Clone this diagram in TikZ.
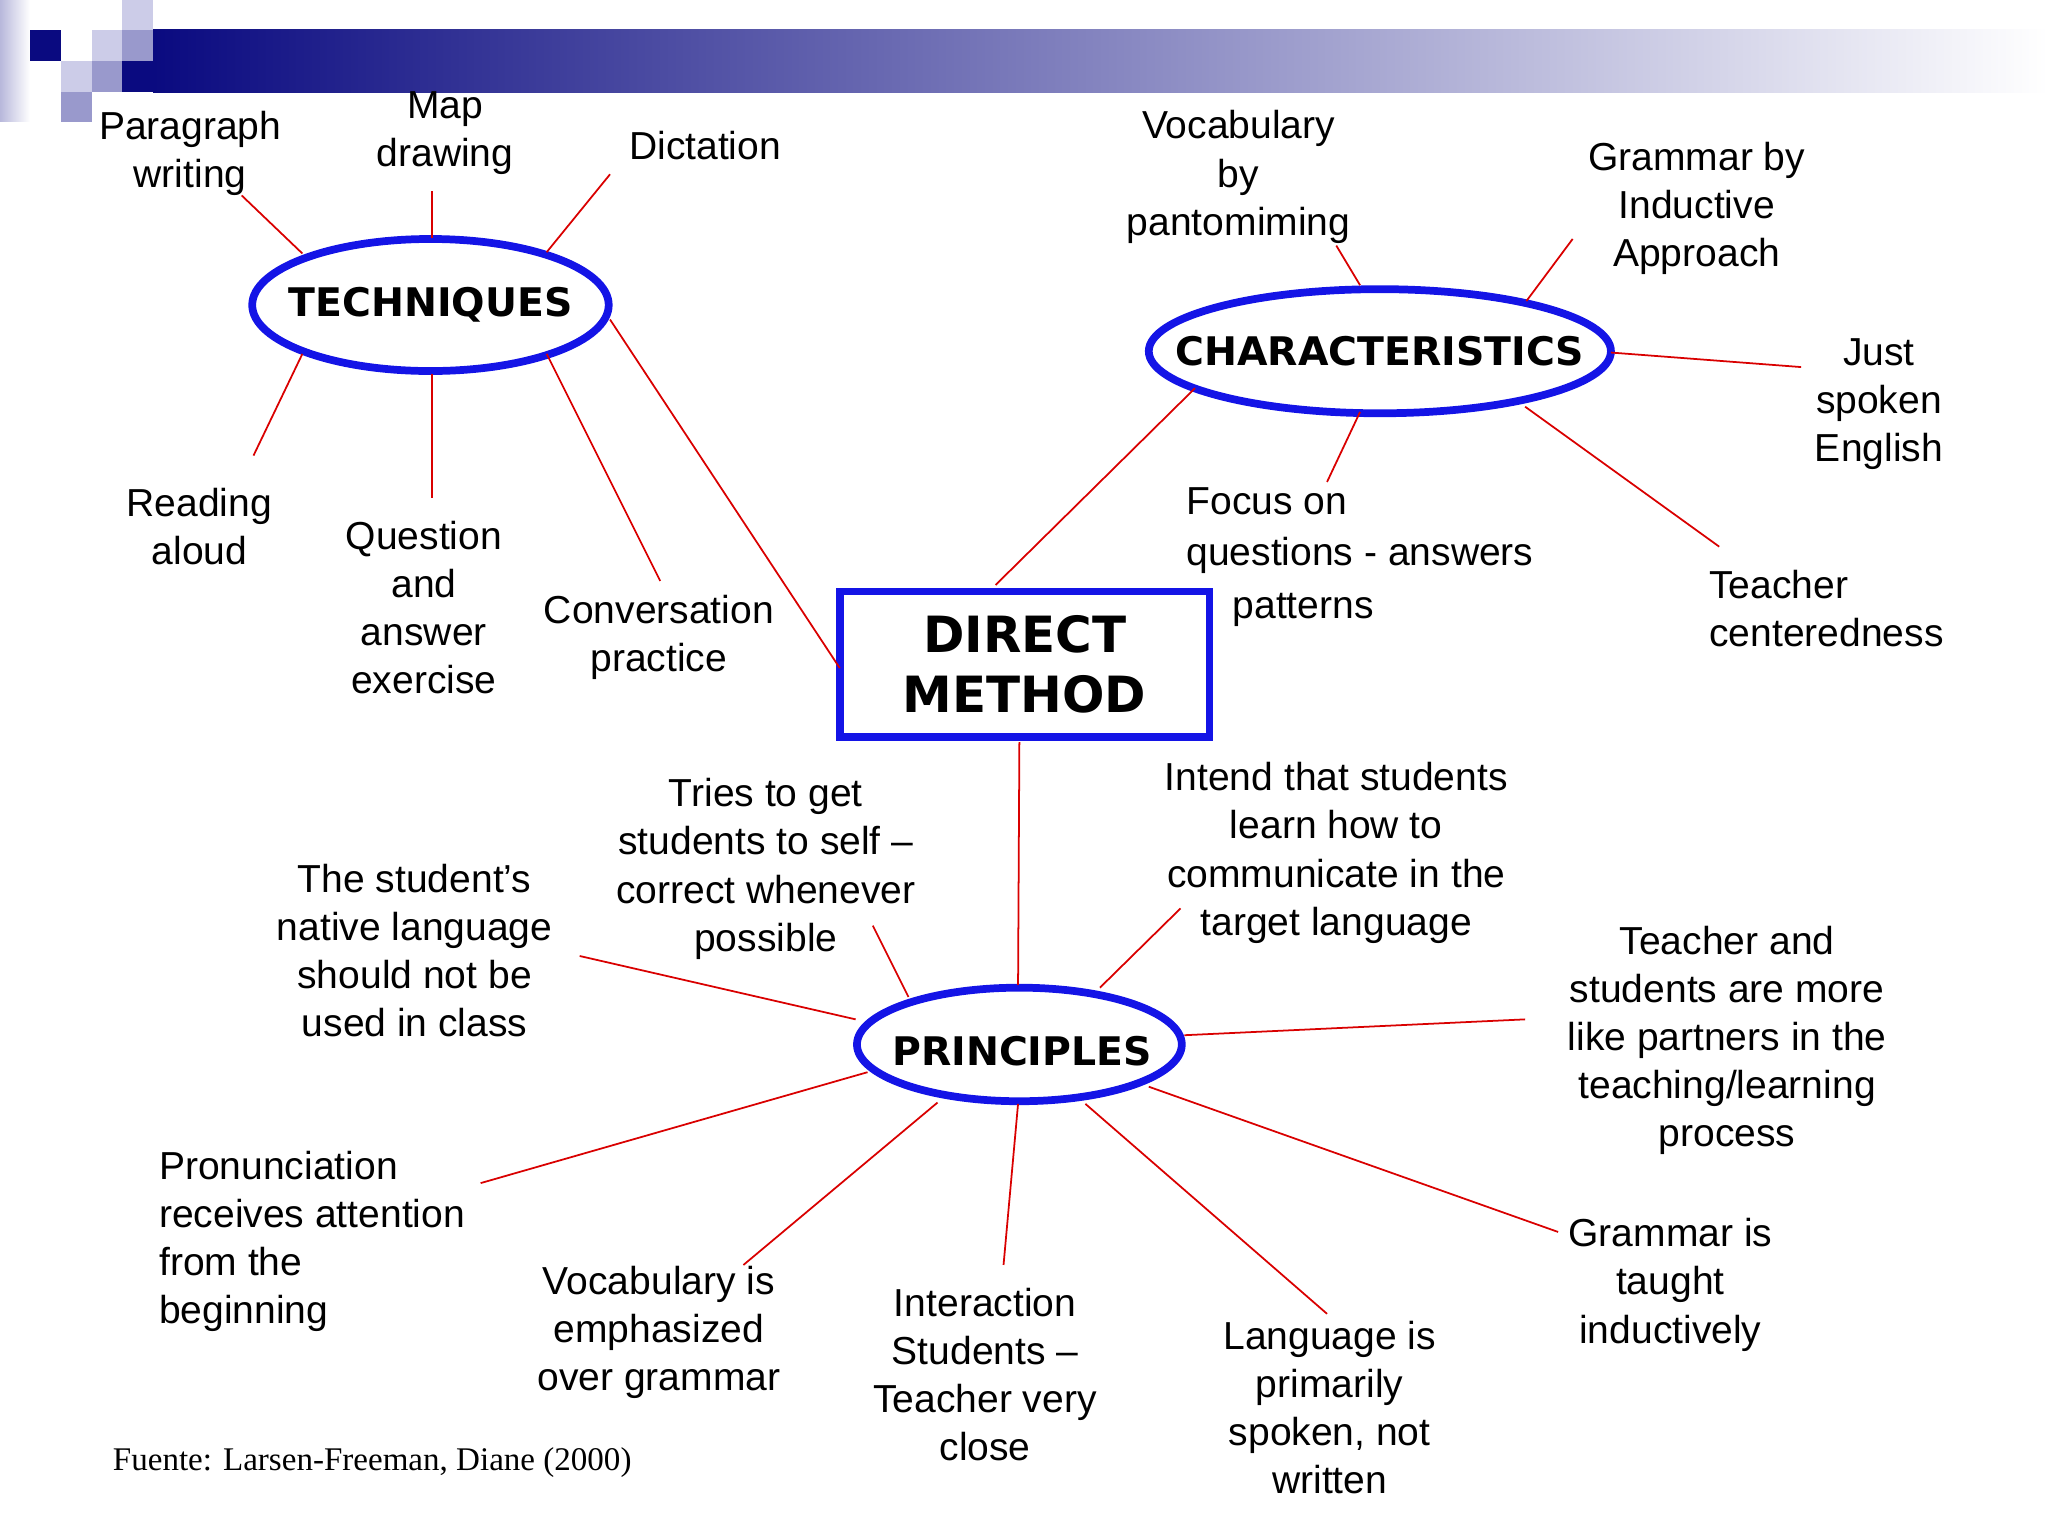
\documentclass[tikz,border=0pt]{standalone}
\usepackage{fontspec}
\setmainfont{Liberation Sans}
\newfontfamily\boldf{DejaVu Sans}
\newfontfamily\serf{Liberation Serif}
\definecolor{navy}{RGB}{10,10,128}
\definecolor{lav}{RGB}{204,204,232}
\definecolor{lavm}{RGB}{153,153,204}
\definecolor{bl}{RGB}{20,20,230}
\tikzset{
 lbl/.style={align=center,font=\fontsize{11.1}{13.7}\selectfont,inner sep=0pt},
 lbll/.style={align=left,font=\fontsize{11.1}{13.7}\selectfont,inner sep=0pt},
 hub/.style={font=\boldf\bfseries\fontsize{11.2}{13}\selectfont,inner sep=0pt},
 hubline/.style={draw=bl,line width=2.2pt},
 con/.style={draw=red!85!black,line width=0.5pt}
}
\begin{document}
\begin{tikzpicture}[x=0.013205cm,y=-0.013205cm]
\useasboundingbox (0,0) rectangle (1551,1163);
% header
\shade[left color=lavm!70,right color=white] (0,0) rectangle (22.7,92.4);
\shade[left color=navy,right color=white] (115.9,22.7) rectangle (1551,69.7);
\fill[navy] (22.7,22.7) rectangle (46.2,46.2);
\fill[lav] (46.2,46.2) rectangle (69.7,69.7);
\fill[lavm] (69.7,46.2) rectangle (92.4,69.7);
\fill[lavm] (46.2,69.7) rectangle (69.7,92.4);
\fill[lav] (69.7,22.7) rectangle (92.4,46.2);
\fill[lavm] (92.4,22.7) rectangle (115.9,46.2);
\fill[lav] (92.4,0) rectangle (115.9,22.7);
\fill[navy] (92.4,46.2) rectangle (115.9,69.7);
% hubs
\node[hub] (tech) at (326,231) {TECHNIQUES};
\draw[hubline] (tech.center) ellipse [x radius=135,y radius=50];
\node[hub] (char) at (1045,266) {CHARACTERISTICS};
\draw[hubline] (char.center) ellipse [x radius=175,y radius=47];
\node[hub] (prin) at (774,796) {PRINCIPLES};
\draw[hubline] (772,791) ellipse [x radius=123,y radius=43];
\node[draw=bl,line width=2.2pt,minimum width=3.697cm,minimum height=1.4525cm,inner sep=0pt,align=center,
  font=\boldf\bfseries\fontsize{14.2}{17}\selectfont] (dm) at (776,503) {DIRECT\\METHOD};
% texts
\node[lbl] (t1) at (144,116) {Paragraph\\writing};
\node[lbl] (t2) at (337,101) {Map\\drawing};
\node[lbl] (t3) at (534,110) {Dictation};
\node[lbl] (t4) at (151,399) {Reading\\aloud};
\node[lbl] (t5) at (321,460) {Question\\and\\answer\\exercise};
\node[lbl] (t6) at (499,483) {Conversation\\practice};
\node[lbl] (c1) at (938,134) {Vocabulary\\by\\pantomiming};
\node[lbl] (c2) at (1285,158) {Grammar by\\Inductive\\Approach};
\node[lbl] (c3) at (1423,306) {Just\\spoken\\English};
\node[lbl,anchor=west] (c4a) at (898,380) {Focus on};
\node[lbl,anchor=west] (c4b) at (898,421) {questions - answers};
\node[lbl,anchor=west] (c4c) at (933,462) {patterns};
\node[lbll,anchor=west] (c5) at (1294,461) {Teacher\\centeredness};
\node[lbl] (p1) at (580,658) {Tries to get\\students to self –\\correct whenever\\possible};
\node[lbl] (p2) at (1012,646) {Intend that students\\learn how to\\communicate in the\\target language};
\node[lbl] (p3) at (314,720) {The student’s\\native language\\should not be\\used in class};
\node[lbl] (p4) at (1308,788) {Teacher and\\students are more\\like partners in the\\teaching/learning\\process};
\node[lbll,anchor=west] (p5) at (120,940) {Pronunciation\\receives attention\\from the\\beginning};
\node[lbl] (p6) at (499,1009) {Vocabulary is\\emphasized\\over grammar};
\node[lbl] (p7) at (746,1041) {Interaction\\Students –\\Teacher very\\close};
\node[lbl] (p8) at (1007,1066) {Language is\\primarily\\spoken, not\\written};
\node[lbl] (p9) at (1265,973) {Grammar is\\taught\\inductively};
\node[anchor=west,font=\serf\fontsize{9.4}{11}\selectfont,inner sep=0pt] (src) at (85,1108) {Fuente: Larsen-Freeman, Diane (2000)};
% connectors
\foreach \n/\a/\b/\c/\d in {
 a1/229/192/183/148, a2/327/180/327/145, a3/414/191/462/132, a4/229/268/192/345,
 a5/327/283/327/377, a6/414/268/500/440, a7/462/242/636/506,
 b1/1030/216/1012/186, b2/1156/228/1191/181, b3/1220/267/1364/278, b4/1155/308/1302/414,
 b5/1030/312/1005/365, b6/905/294/754/443, d1/772/562/771/746,
 e1/688/755/661/701, e2/833/748/894/688, e3/648/772/439/724, e4/897/784/1155/772,
 e5/657/812/364/896, e6/710/835/563/958, e7/771/836/760/958, e8/822/836/1005/995,
 e9/870/823/1180/933}{
 \coordinate (\n s) at (\a,\b); \coordinate (\n e) at (\c,\d);
 \draw[con] (\n s) -- (\n e);
}
\end{tikzpicture}
\end{document}
